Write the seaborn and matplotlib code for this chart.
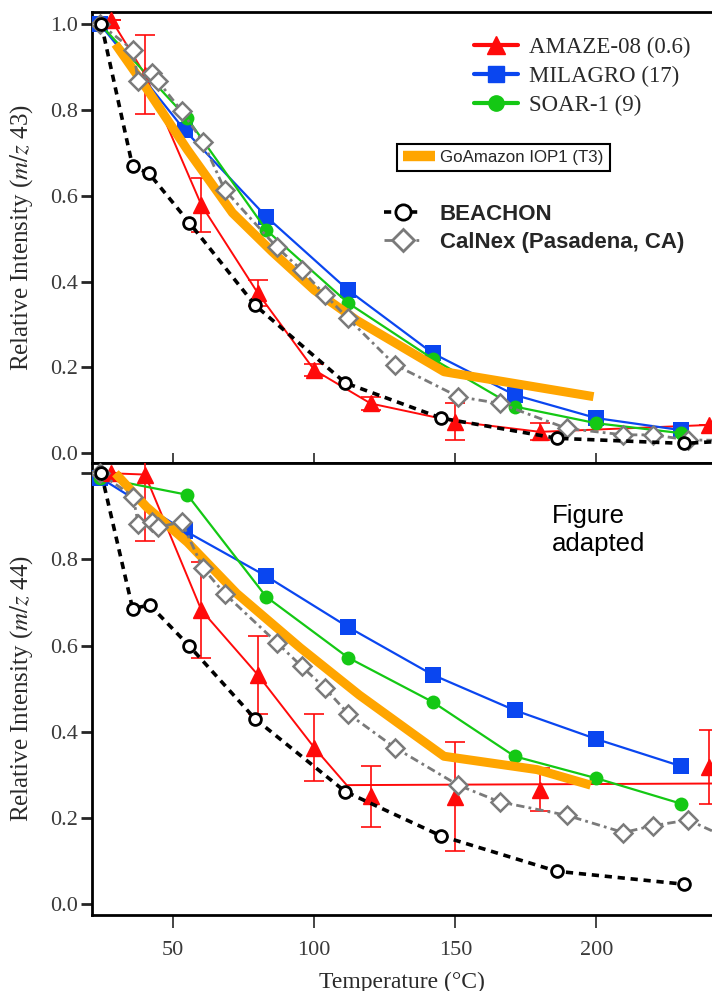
import numpy as np
import pandas as pd
import matplotlib
matplotlib.use('Agg')
import matplotlib.pyplot as plt
import seaborn as sns
from matplotlib.lines import Line2D
from matplotlib.ticker import FixedLocator, FixedFormatter

sns.set_theme(style='ticks')
plt.rcParams['font.family'] = ['Liberation Serif', 'DejaVu Serif']
plt.rcParams['mathtext.fontset'] = 'stix'

# ---- data: m/z 43 (top panel) ----
amaze_t = [28, 40, 60, 80, 100, 120, 150, 180, 240]
amaze43 = [1.01, 0.882, 0.578, 0.373, 0.194, 0.116, 0.074, 0.05, 0.066]
amaze43_err = [0, 0.092, 0.063, 0.031, 0.015, 0.015, 0.042, 0.02, 0]

milagro_t = [24, 54, 83, 112, 142, 171, 200, 230]
milagro43 = [1.0, 0.753, 0.551, 0.38, 0.233, 0.136, 0.082, 0.054]
soar_t = [24, 55, 83, 112, 142, 171, 200, 230]
soar43 = [1.0, 0.78, 0.52, 0.35, 0.22, 0.109, 0.07, 0.047]

beachon_t = [24.5, 35.6, 41.4, 55.7, 79, 111, 145, 186, 231, 250]
beachon43 = [1.0, 0.668, 0.652, 0.537, 0.345, 0.164, 0.082, 0.035, 0.023, 0.03]

calnex_t = [24, 35.8, 37.6, 42.3, 44.7, 53, 60.5, 68.3, 86.7, 95.5, 103.8, 112,
            128.6, 151, 165.8, 189.5, 209.6, 220.2, 232.6, 250]
calnex43 = [1.0, 0.939, 0.866, 0.885, 0.866, 0.797, 0.726, 0.613, 0.48, 0.427,
            0.369, 0.314, 0.206, 0.132, 0.116, 0.058, 0.043, 0.043, 0.031, 0.03]

goam43_t = [29.5, 40.5, 55, 71, 85, 100, 115, 146, 199]
goam43 = [0.953, 0.85, 0.707, 0.56, 0.47, 0.38, 0.31, 0.19, 0.132]

# ---- data: m/z 44 (bottom panel) ----
amaze44 = [1.0, 0.997, 0.682, 0.532, 0.363, 0.25, 0.249, 0.265, 0.318]
amaze44_err = [0, 0.155, 0.112, 0.09, 0.077, 0.071, 0.127, 0.05, 0.085]
amaze44_line_t = [28, 40, 60, 80, 100, 111.5, 250]
amaze44_line = [1.0, 0.997, 0.682, 0.532, 0.363, 0.276, 0.28]

milagro44 = [0.99, 0.867, 0.761, 0.643, 0.532, 0.45, 0.383, 0.32]
soar44 = [0.99, 0.95, 0.713, 0.572, 0.469, 0.343, 0.292, 0.233]
beachon44_t = [24.5, 35.6, 41.7, 55.7, 79, 111, 145, 186, 231]
beachon44 = [1.0, 0.686, 0.694, 0.599, 0.43, 0.261, 0.158, 0.076, 0.046]
calnex44 = [1.0, 0.946, 0.882, 0.886, 0.875, 0.887, 0.78, 0.72, 0.607, 0.552,
            0.501, 0.442, 0.363, 0.276, 0.237, 0.206, 0.166, 0.182, 0.195, 0.143]
goam44_t = [29.5, 40.5, 55, 72.5, 95, 116, 146, 179, 198]
goam44 = [1.0, 0.922, 0.84, 0.721, 0.595, 0.485, 0.343, 0.312, 0.276]

RED = '#ff0a0a'
BLUE = '#0a46f0'
GREEN = '#14c814'
ORANGE = '#ffa500'
GRAY = '#7a7a7a'
TXT = '#2a2a2a'

fig = plt.figure(figsize=(7.12, 9.91), dpi=100)
left = 91.7 / 712
ax1 = fig.add_axes([left, 1 - 462.5 / 991, 1 - left, 450.2 / 991])
ax2 = fig.add_axes([left, 1 - 915 / 991, 1 - left, 452.5 / 991])


def draw_panel(ax, red_t, red_v, red_err, red_line_t, red_line_v, blue, green,
               black_t, black_v, gray_v, orange_t, orange_v):
    sns.lineplot(x=red_line_t, y=red_line_v, ax=ax, color=RED, lw=1.4, zorder=2)
    ax.errorbar(red_t, red_v, yerr=red_err, fmt='^', color=RED, ms=11, mec=RED,
                ecolor=RED, elinewidth=1.2, capsize=7, capthick=1.2, zorder=3)
    sns.lineplot(x=milagro_t, y=blue, ax=ax, color=BLUE, lw=1.6, marker='s',
                 ms=11, mec=BLUE, mew=0, zorder=3)
    sns.lineplot(x=soar_t, y=green, ax=ax, color=GREEN, lw=1.6, marker='o',
                 ms=10, mec=GREEN, mew=0, zorder=3)
    sns.lineplot(x=orange_t, y=orange_v, ax=ax, color=ORANGE, lw=6.5,
                 solid_capstyle='butt', zorder=4)
    sns.lineplot(x=calnex_t, y=gray_v, ax=ax, color=GRAY, lw=2,
                 linestyle=(0, (3, 1.5, 1, 1.5)), marker='D', ms=9,
                 mfc='white', mec=GRAY, mew=1.8, zorder=5)
    sns.lineplot(x=black_t, y=black_v, ax=ax, color='black', lw=2.6,
                 linestyle=(0, (2, 1.6)), marker='o', ms=8.5,
                 mfc='white', mec='black', mew=2, zorder=6)

    ax.set_xlim(21.1, 241)
    ax.set_xticks([50, 100, 150, 200])
    for side in ['left', 'top', 'bottom']:
        ax.spines[side].set_linewidth(2)
        ax.spines[side].set_color('black')
    ax.spines['right'].set_visible(False)
    ax.tick_params(axis='y', direction='out', length=8, width=2,
                   labelsize=16, pad=2, labelcolor='#3a3a3a')
    ax.set_xlabel('')


draw_panel(ax1, amaze_t, amaze43, amaze43_err, amaze_t, amaze43, milagro43, soar43,
           beachon_t, beachon43, calnex43, goam43_t, goam43)
draw_panel(ax2, amaze_t, amaze44, amaze44_err, amaze44_line_t, amaze44_line,
           milagro44, soar44, beachon44_t, beachon44, calnex44, goam44_t, goam44)

ax1.set_ylim(-0.0214, 1.027)
ax1.set_yticks([0, 0.2, 0.4, 0.6, 0.8, 1.0])
ax1.set_yticklabels(['0.0', '0.2', '0.4', '0.6', '0.8', '1.0'])
ax1.tick_params(axis='x', direction='in', length=7, width=1.2, labelbottom=False)
ax1.set_ylabel('Relative Intensity ($m/z$ 43)', fontsize=18, color=TXT)

ax2.set_ylim(-0.0255, 1.025)
ax2.yaxis.set_major_locator(FixedLocator([0, 0.2, 0.4, 0.6, 0.8, 1.0]))
ax2.yaxis.set_major_formatter(FixedFormatter(['0.0', '0.2', '0.4', '0.6', '0.8', '']))
ax2.tick_params(axis='x', direction='out', length=9, width=1.2, labelsize=16,
                pad=10, labelcolor='#3a3a3a')
ax2.set_ylabel('Relative Intensity ($m/z$ 44)', fontsize=18, color=TXT)
ax2.set_xlabel('Temperature (°C)', fontsize=17, color=TXT, labelpad=8)
ax1.yaxis.set_label_coords(-0.092, 0.5)
ax2.yaxis.set_label_coords(-0.092, 0.5)

# legends
h1 = [Line2D([], [], color=RED, lw=3, marker='^', ms=13, mec=RED),
      Line2D([], [], color=BLUE, lw=3, marker='s', ms=12, mec=BLUE),
      Line2D([], [], color=GREEN, lw=3, marker='o', ms=11, mec=GREEN)]
leg1 = ax1.legend(h1, ['AMAZE-08 (0.6)', 'MILAGRO (17)', 'SOAR-1 (9)'],
                  loc='upper left', bbox_to_anchor=(474 / 712, 1 - 37 / 991),
                  bbox_transform=fig.transFigure, frameon=False, borderpad=0,
                  borderaxespad=0, handlelength=1.9, handletextpad=0.5,
                  labelspacing=0.33, prop={'family': 'Liberation Serif', 'size': 16.5})
for t in leg1.get_texts():
    t.set_color(TXT)
ax1.add_artist(leg1)

h2 = [Line2D([], [], color=ORANGE, lw=7.5, solid_capstyle='butt')]
leg2 = ax1.legend(h2, ['GoAmazon IOP1 (T3)'], loc='upper left',
                  bbox_to_anchor=(397 / 712, 1 - 144 / 991),
                  bbox_transform=fig.transFigure, frameon=True, fancybox=False,
                  borderpad=0.35, borderaxespad=0, handlelength=1.9,
                  handletextpad=0.3, prop={'family': 'Liberation Sans', 'size': 12.2})
leg2.get_frame().set_edgecolor('black')
leg2.get_frame().set_linewidth(1.5)
leg2.get_frame().set_alpha(1)
ax1.add_artist(leg2)

h3 = [Line2D([], [], color='black', lw=2.6, linestyle=(0, (2, 1.6)), marker='o',
             ms=11, mfc='white', mec='black', mew=2),
      Line2D([], [], color=GRAY, lw=2, linestyle=(0, (3, 1.5, 1, 1.5)), marker='D',
             ms=11, mfc='white', mec=GRAY, mew=2)]
leg3 = ax1.legend(h3, ['BEACHON', 'CalNex (Pasadena, CA)'], loc='upper left',
                  bbox_to_anchor=(384 / 712, 1 - 204 / 991),
                  bbox_transform=fig.transFigure, frameon=False, borderpad=0,
                  borderaxespad=0, handlelength=1.7, handletextpad=0.8,
                  labelspacing=0.3,
                  prop={'family': 'Liberation Sans', 'size': 16, 'weight': 'bold'})

fig.text(552 / 712, 1 - 550.5 / 991, 'Figure\nadapted', family='Liberation Sans',
         fontsize=18.5, color='black', va='baseline', ha='left', linespacing=1.2)

fig.savefig('out.png', dpi=100)
